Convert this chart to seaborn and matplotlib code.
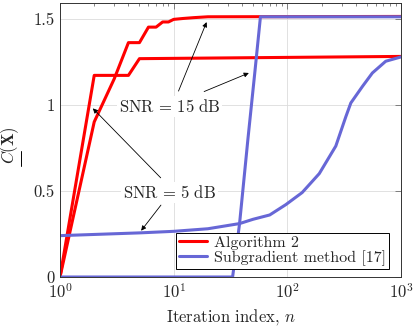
import numpy as np
import matplotlib
matplotlib.use('Agg')
import matplotlib.pyplot as plt
import seaborn as sns
from matplotlib.lines import Line2D

# Algorithm 2 (SNR = 15 dB and SNR = 5 dB)
n_alg_15 = [1, 2, 3, 4, 5, 6, 7, 8, 9, 10, 12, 15, 20, 1000]
c_alg_15 = [0, 0.90, 1.15, 1.36, 1.36, 1.45, 1.45, 1.48, 1.48, 1.495, 1.50, 1.505, 1.51, 1.512]
n_alg_5 = [1, 2, 3, 4, 5, 1000]
c_alg_5 = [0, 1.17, 1.17, 1.17, 1.267, 1.28]

# Subgradient method [17]
n_sub_15 = [1, 33, 38, 45, 52, 58, 1000]
c_sub_15 = [0, 0, 0.31, 0.80, 1.20, 1.51, 1.51]
n_sub_5 = [1, 5, 10, 20, 38, 50, 70, 97, 135, 191, 267, 327, 362, 458, 560, 734, 1000]
c_sub_5 = [0.24, 0.256, 0.265, 0.28, 0.31, 0.335, 0.36, 0.42, 0.49, 0.60, 0.76, 0.93,
           1.01, 1.106, 1.184, 1.252, 1.277]

sns.set_style('white')
plt.rcParams['font.family'] = ['cmr10', 'DejaVu Serif']
plt.rcParams['mathtext.fontset'] = 'cm'
plt.rcParams['axes.formatter.use_mathtext'] = True

red = '#ff0000'
blue = '#6767d6'
fs = 12

fig = plt.figure(figsize=(4.15, 3.26), dpi=100)
ax = fig.add_axes([60/415, 49/326, 341/415, 274/326])

sns.lineplot(x=n_alg_15, y=c_alg_15, color=red, lw=2.2, ax=ax, sort=False, estimator=None)
sns.lineplot(x=n_alg_5, y=c_alg_5, color=red, lw=2.2, ax=ax, sort=False, estimator=None)
sns.lineplot(x=n_sub_15, y=c_sub_15, color=blue, lw=2.2, ax=ax, sort=False, estimator=None)
sns.lineplot(x=n_sub_5, y=c_sub_5, color=blue, lw=2.2, ax=ax, sort=False, estimator=None)

ax.set_xscale('log')
ax.set_xlim(1, 1000)
ax.set_ylim(0, 1.59)
ax.set_yticks([0, 0.5, 1, 1.5])
ax.set_yticklabels(['0', '0.5', '1', '1.5'])
ax.set_xticks([1, 10, 100, 1000])
ax.set_xticklabels([r'$10^0$', r'$10^1$', r'$10^2$', r'$10^3$'])
ax.grid(True, which='major', color='#dcdcdc', lw=0.6)
ax.tick_params(which='both', direction='in', top=True, right=True, labelsize=fs, color='#555555')
ax.tick_params(which='major', length=4, width=0.5, pad=4)
ax.tick_params(which='minor', length=2.5, width=0.5)
for s in ax.spines.values():
    s.set_linewidth(0.7)
    s.set_color('#333333')

ax.set_xlabel(r'Iteration index, $n$', fontsize=fs, labelpad=4)
ax.set_ylabel(r'$C(\mathbf{X})$', fontsize=fs)
ax.yaxis.set_label_coords(-0.115, 0.48)
# underline under C in the y label (rotated text -> vertical bar on its right side)
fig.add_artist(Line2D([0.050, 0.050], [0.492, 0.538], color='black', lw=0.7))

# annotations
lab_kw = dict(fontsize=fs, ha='center', va='center',
              bbox=dict(boxstyle='square,pad=0.1', fc='white', ec='none'))
arr = dict(arrowstyle='-|>', color='black', lw=0.6, mutation_scale=7)
ax.annotate('', xy=(19.9, 1.494), xytext=(10.8, 1.064), arrowprops=arr)
ax.annotate('', xy=(48.3, 1.19), xytext=(17.6, 1.07), arrowprops=arr)
ax.annotate('', xy=(1.87, 0.99), xytext=(8.0, 0.564), arrowprops=arr)
ax.annotate('', xy=(5.0, 0.256), xytext=(8.0, 0.43), arrowprops=arr)
ax.text(9.2, 0.99, r'$\mathrm{SNR}\, =\, 15\ \mathrm{dB}$', **lab_kw)
ax.text(9.2, 0.49, r'$\mathrm{SNR}\, =\, 5\ \mathrm{dB}$', **lab_kw)

handles = [Line2D([], [], color=red, lw=2.2), Line2D([], [], color=blue, lw=2.2)]
leg = ax.legend(handles, ['Algorithm 2', 'Subgradient method [17]'], loc='lower right',
                bbox_to_anchor=(0.965, 0.03), fontsize=11.5, frameon=True, fancybox=False,
                edgecolor='black', framealpha=1, handlelength=1.8, borderpad=0.2,
                labelspacing=0.0, handletextpad=0.4, borderaxespad=0)
leg.get_frame().set_linewidth(0.7)

fig.savefig('out.png', dpi=100)
